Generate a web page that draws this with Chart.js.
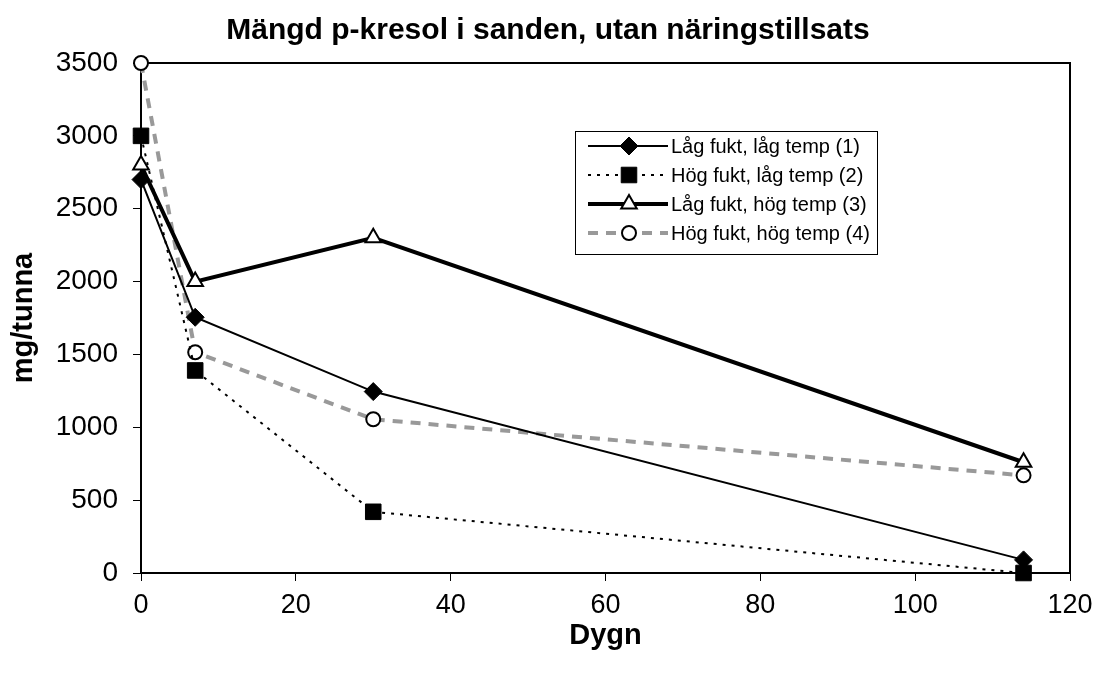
<!DOCTYPE html>
<html>
<head>
<meta charset="utf-8">
<script src="https://cdn.jsdelivr.net/npm/chart.js@4.4.1/dist/chart.umd.min.js"></script>
<style>
html,body{margin:0;padding:0;background:#fff;}
#wrap{width:1101px;height:684px;position:relative;}
</style>
</head>
<body>
<div id="wrap"><canvas id="c" width="1101" height="684"></canvas></div>
<script>
const chartTitle = 'Mängd p-kresol i sanden, utan näringstillsats';
const xTitle = 'Dygn';
const yTitle = 'mg/tunna';
const days = [0, 7, 30, 114];
const seriesNames = ['Låg fukt, låg temp (1)', 'Hög fukt, låg temp (2)', 'Låg fukt, hög temp (3)', 'Hög fukt, hög temp (4)'];
const lagFuktLagTemp = [2700, 1755, 1245, 90];
const hogFuktLagTemp = [3000, 1390, 420, 0];
const lagFuktHogTemp = [2800, 2000, 2300, 760];
const hogFuktHogTemp = [3500, 1515, 1055, 670];

const FONT = "'Liberation Sans', Arial, sans-serif";

function pts(vals){ return days.map((d,i)=>({x:d,y:vals[i]})); }

const datasets = [
  {label: seriesNames[0], data: pts(lagFuktLagTemp), borderColor:'#000', borderWidth:2,
   pointStyle:'rectRot', pointRadius:9, pointBackgroundColor:'#000', pointBorderColor:'#000', pointBorderWidth:1},
  {label: seriesNames[1], data: pts(hogFuktLagTemp), borderColor:'#000', borderWidth:2, borderDash:[3,6],
   pointStyle:'rect', pointRadius:11, pointBackgroundColor:'#000', pointBorderColor:'#000', pointBorderWidth:1},
  {label: seriesNames[2], data: pts(lagFuktHogTemp), borderColor:'#000', borderWidth:4,
   pointStyle:'triangle', pointRadius:9, pointBackgroundColor:'#fff', pointBorderColor:'#000', pointBorderWidth:2},
  {label: seriesNames[3], data: pts(hogFuktHogTemp), borderColor:'#999', borderWidth:4, borderDash:[10,8],
   pointStyle:'circle', pointRadius:7, pointBackgroundColor:'#fff', pointBorderColor:'#000', pointBorderWidth:2}
];
datasets.forEach(d=>{ d.fill=false; d.tension=0; d.pointHoverRadius=d.pointRadius; d.clip=false; });

const frame = {
  id:'frame',
  beforeDatasetsDraw(chart){
    const a = chart.chartArea, ctx = chart.ctx;
    ctx.save();
    ctx.strokeStyle='#000'; ctx.lineWidth=2;
    ctx.beginPath();
    ctx.moveTo(a.left, a.top); ctx.lineTo(a.right, a.top); ctx.lineTo(a.right, a.bottom);
    ctx.stroke();
    ctx.restore();
  },
  afterDraw(chart){
    const ctx = chart.ctx;
    ctx.save();
    ctx.fillStyle='#000';
    ctx.font = 'bold 30px ' + FONT;
    ctx.textAlign='center'; ctx.textBaseline='middle';
    ctx.fillText(chartTitle, 548, 31);
    ctx.restore();
  }
};

const boxLegend = {
  id:'boxLegend',
  afterDraw(chart){
    const ctx = chart.ctx;
    const bx = 575, by = 131, bw = 302, bh = 123;
    ctx.save();
    ctx.fillStyle='#fff';
    ctx.fillRect(bx,by,bw,bh);
    ctx.strokeStyle='#000'; ctx.lineWidth=1;
    ctx.strokeRect(bx+0.5,by+0.5,bw,bh);
    const rows = [146, 175, 204, 233];
    chart.data.datasets.forEach((ds,i)=>{
      const y = rows[i];
      ctx.save();
      ctx.strokeStyle = ds.borderColor; ctx.lineWidth = ds.borderWidth;
      ctx.setLineDash(ds.borderDash || []);
      ctx.beginPath(); ctx.moveTo(588,y); ctx.lineTo(668,y); ctx.stroke();
      ctx.restore();
      ctx.save();
      ctx.fillStyle = ds.pointBackgroundColor; ctx.strokeStyle = ds.pointBorderColor;
      ctx.lineWidth = ds.pointBorderWidth;
      Chart.helpers.drawPoint(ctx, {pointStyle: ds.pointStyle, radius: ds.pointRadius, borderWidth: ds.pointBorderWidth}, 629, y);
      ctx.restore();
      ctx.fillStyle='#000';
      ctx.font = '20px ' + FONT;
      ctx.textBaseline='middle'; ctx.textAlign='left';
      ctx.fillText(ds.label, 671, y+1);
    });
    ctx.restore();
  }
};

new Chart(document.getElementById('c'), {
  type:'line',
  data:{datasets},
  plugins:[frame, boxLegend],
  options:{
    responsive:false, animation:false, devicePixelRatio:1,
    layout:{padding:{left:0, right:31, top:63, bottom:0}},
    plugins:{
      legend:{display:false},
      tooltip:{enabled:false},
      title:{display:false}
    },
    scales:{
      x:{type:'linear', min:0, max:120,
        ticks:{stepSize:20, color:'#000', font:{family:FONT, size:27}, padding:8, maxRotation:0,
          callback:v=>String(v)},
        grid:{display:true, drawOnChartArea:false, drawTicks:true, tickLength:8, color:'#000', lineWidth:1},
        border:{display:true, color:'#000', width:2},
        title:{display:true, text:xTitle, color:'#000', font:{family:FONT, size:29, weight:'bold'}, padding:{top:4, bottom:31}},
        afterFit(s){ s.height = 111; }
      },
      y:{type:'linear', min:0, max:3500,
        ticks:{stepSize:500, color:'#000', font:{family:FONT, size:28}, padding:15,
          callback:v=>String(v)},
        grid:{display:true, drawOnChartArea:false, drawTicks:true, tickLength:8, color:'#000', lineWidth:1},
        border:{display:true, color:'#000', width:2},
        title:{display:true, text:yTitle, color:'#000', font:{family:FONT, size:29, weight:'bold'}, padding:{top:7, bottom:4}},
        afterFit(s){ s.width = 141; }
      }
    }
  }
});
</script>
</body>
</html>
